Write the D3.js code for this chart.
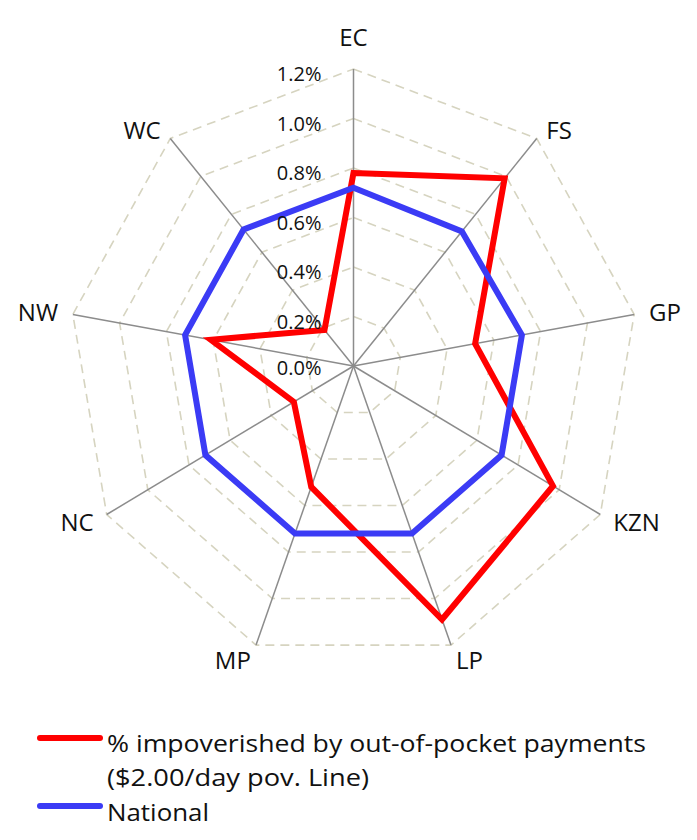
<!DOCTYPE html>
<html>
<head>
<meta charset="utf-8">
<script src="https://cdn.jsdelivr.net/npm/d3@7"></script>
<style>
	body { margin: 0; background: #fff; }
	text { font-family: "Open Sans", sans-serif; fill: #111; }
</style>
</head>
<body>
<div id="radar"></div>
<script>
const width = 697
const height = 840

const regions = ["EC", "FS", "GP", "KZN", "LP", "MP", "NC", "NW", "WC"]
const impoverished = [0.78, 0.99, 0.52, 0.97, 1.09, 0.52, 0.29, 0.61, 0.19]
const national = [0.72, 0.71, 0.72, 0.72, 0.72, 0.72, 0.72, 0.72, 0.72]
const ticks = [0, 0.2, 0.4, 0.6, 0.8, 1.0, 1.2]
const seriesNames = ["% impoverished by out-of-pocket payments", "($2.00/day pov. Line)", "National"]

const cx = 353.5
const cy = 366

const svg = d3.select("#radar")
	.append("svg")
	.attr("width", width)
	.attr("height", height)

// picture is a bit taller than wide, so two radius scales
const rx = d3.scaleLinear().domain([0, 1.2]).range([0, 285])
const ry = d3.scaleLinear().domain([0, 1.2]).range([0, 297])
const angle = d3.scaleLinear().domain([0, regions.length]).range([0, 2 * Math.PI])

const px = (v, i) => cx + rx(v) * Math.sin(angle(i))
const py = (v, i) => cy - ry(v) * Math.cos(angle(i))

const polygon = vals => d3.line()
	.x((d, i) => px(d, i))
	.y((d, i) => py(d, i))
	.curve(d3.curveLinearClosed)(vals)

// rings
svg.selectAll("path.ring")
	.data(ticks.slice(1))
	.join("path")
		.attr("class", "ring")
		.attr("d", t => polygon(regions.map(() => t)))
		.attr("fill", "none")
		.attr("stroke", "#d6d4c0")
		.attr("stroke-width", 1.6)
		.attr("stroke-dasharray", "9,6")

// spokes
svg.selectAll("line.spoke")
	.data(regions)
	.join("line")
		.attr("class", "spoke")
		.attr("x1", cx)
		.attr("y1", cy)
		.attr("x2", (d, i) => px(1.2, i))
		.attr("y2", (d, i) => py(1.2, i))
		.attr("stroke", "#8c8c8c")
		.attr("stroke-width", 1.5)

// series
const series = [
	{values: impoverished, color: "#ff0000"},
	{values: national, color: "#3b3bf5"}
]

svg.selectAll("path.serie")
	.data(series)
	.join("path")
		.attr("class", "serie")
		.attr("d", d => polygon(d.values))
		.attr("fill", "none")
		.attr("stroke", d => d.color)
		.attr("stroke-width", 6)
		.attr("stroke-linejoin", "miter")

// region labels
svg.selectAll("text.region")
	.data(regions)
	.join("text")
		.attr("class", "region")
		.attr("x", (d, i) => px(1.2, i) + 15 * Math.sin(angle(i)))
		.attr("y", (d, i) => {
			const c = Math.cos(angle(i))
			let y = py(1.2, i) - c * (c > 0 ? 10 : 16)
			if (Math.abs(Math.sin(angle(i))) < 0.1) y -= 21
			return y
		})
		.attr("dy", "0.35em")
		.attr("text-anchor", (d, i) => {
			const s = Math.sin(angle(i))
			return s > 0.1 ? "start" : s < -0.1 ? "end" : "middle"
		})
		.attr("font-size", 24)
		.text(d => d)

// tick labels
svg.selectAll("text.tick")
	.data(ticks)
	.join("text")
		.attr("class", "tick")
		.attr("x", cx - 32)
		.attr("y", d => cy - ry(d) + (d === 0 ? 2 : 5))
		.attr("dy", "0.35em")
		.attr("text-anchor", "end")
		.attr("font-size", 20)
		.text(d => d3.format(".1f")(d) + "%")

// legend
const legend = svg.append("g")

legend.selectAll("line")
	.data([{y: 738, color: "#ff0000"}, {y: 806, color: "#3b3bf5"}])
	.join("line")
		.attr("x1", 40)
		.attr("x2", 100)
		.attr("y1", d => d.y)
		.attr("y2", d => d.y)
		.attr("stroke", d => d.color)
		.attr("stroke-width", 6)
		.attr("stroke-linecap", "round")

legend.selectAll("text")
	.data(seriesNames)
	.join("text")
		.attr("x", 107)
		.attr("y", (d, i) => [752, 786, 821][i])
		.attr("font-size", 24)
		.attr("textLength", (d, i) => [539, 262, 102][i])
		.attr("lengthAdjust", "spacingAndGlyphs")
		.text(d => d)
</script>
</body>
</html>
